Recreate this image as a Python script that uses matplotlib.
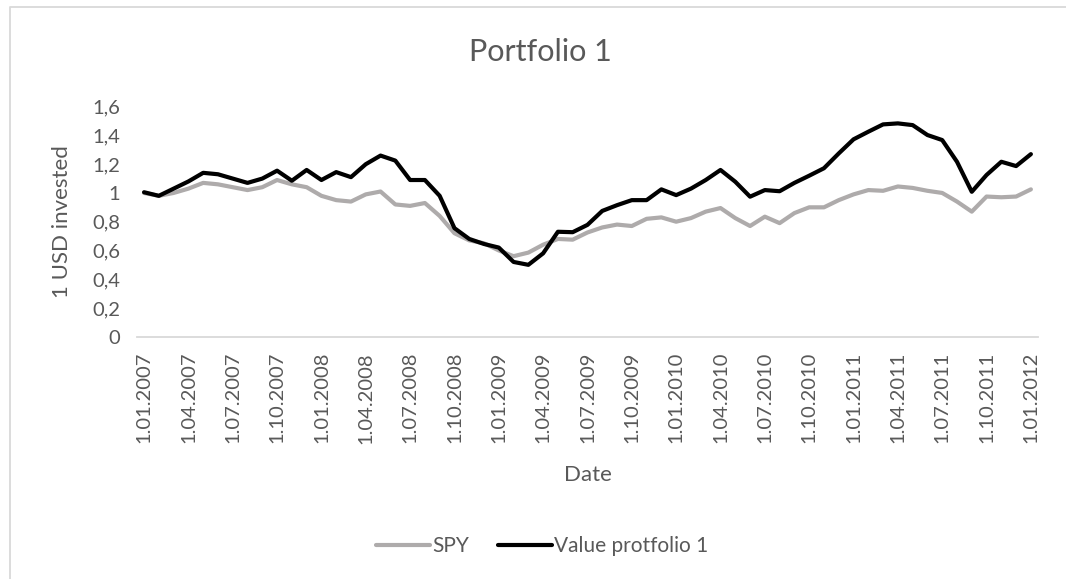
import matplotlib
matplotlib.use("Agg")
import matplotlib.pyplot as plt
from matplotlib.lines import Line2D
import pandas as pd

# datos mensuales (enero 2007 - enero 2012)
fechas = pd.date_range("2007-01-01", "2012-01-01", freq="MS")
spy = [1.00, 0.98, 1.00, 1.03, 1.07, 1.06, 1.04, 1.02, 1.04, 1.09,
       1.06, 1.04, 0.98, 0.95, 0.94, 0.99, 1.01, 0.92, 0.91, 0.93,
       0.84, 0.72, 0.67, 0.65, 0.60, 0.56, 0.585, 0.64, 0.68, 0.675,
       0.725, 0.76, 0.78, 0.77, 0.82, 0.83, 0.80, 0.825, 0.87, 0.895,
       0.825, 0.77, 0.835, 0.79, 0.86, 0.90, 0.90, 0.95, 0.99, 1.02,
       1.015, 1.045, 1.035, 1.015, 1.00, 0.94, 0.87, 0.975, 0.97, 0.975,
       1.025]
portafolio = [1.005, 0.98, 1.03, 1.08, 1.14, 1.13, 1.10, 1.07, 1.10, 1.155,
              1.085, 1.16, 1.09, 1.145, 1.11, 1.20, 1.26, 1.225, 1.09, 1.09,
              0.98, 0.755, 0.68, 0.645, 0.62, 0.52, 0.50, 0.58, 0.73, 0.727,
              0.778, 0.875, 0.915, 0.95, 0.95, 1.025, 0.985, 1.03, 1.09, 1.16,
              1.078, 0.974, 1.02, 1.012, 1.07, 1.12, 1.172, 1.275, 1.373, 1.426,
              1.477, 1.484, 1.472, 1.403, 1.368, 1.217, 1.008, 1.125, 1.217, 1.187,
              1.27]

etiquetas = [f"{d.day}.{d.month:02d}.{d.year}" for d in fechas]
x = list(range(len(fechas)))

gris_texto = "#595959"
plt.rcParams['font.family'] = ['Lato', 'DejaVu Sans']
plt.rcParams['text.color'] = gris_texto

fig = plt.figure(figsize=(10.66, 5.79), dpi=100)
ax = fig.add_axes([0.1282, 0.4185, 0.8458, 0.3972])

ax.plot(x, spy, color="#AEABAB", lw=3.0, solid_capstyle="round", solid_joinstyle="round", label="SPY")
ax.plot(x, portafolio, color="black", lw=3.0, solid_capstyle="round", solid_joinstyle="round", label="Value protfolio 1")

ax.set_xlim(-0.5, len(x) - 0.5)
ax.set_ylim(0, 1.6)
ax.set_yticks([0, 0.2, 0.4, 0.6, 0.8, 1.0, 1.2, 1.4, 1.6])
ax.set_yticklabels(["0", "0,2", "0,4", "0,6", "0,8", "1", "1,2", "1,4", "1,6"])
ax.set_xticks(x[::3])
ax.set_xticklabels(etiquetas[::3], rotation=90)
ax.tick_params(axis="both", length=0, labelsize=14.5, labelcolor=gris_texto)
ax.tick_params(axis="x", pad=11)
ax.tick_params(axis="y", pad=12)

for lado in ["top", "right", "left"]:
    ax.spines[lado].set_visible(False)
ax.spines["bottom"].set_color("#D9D9D9")
ax.spines["bottom"].set_linewidth(1.3)

# titulos
fig.text(540 / 1066, 1 - 52 / 579, "Portfolio 1", fontsize=22, ha="center", va="center")
fig.text(62 / 1066, 1 - 222 / 579, "1 USD invested", fontsize=16, rotation=90, ha="center", va="center")
fig.text(588 / 1066, 1 - 475 / 579, "Date", fontsize=16, ha="center", va="center")

fig.legend(loc="center", bbox_to_anchor=(542 / 1066, 1 - 546 / 579), ncol=2, frameon=False,
           fontsize=15, handlelength=2.6, handletextpad=0.1, columnspacing=1.4)

# borde del área del gráfico (solo arriba e izquierda visibles)
fig.add_artist(Line2D([10 / 1066, 10 / 1066, 1.0], [0.0, 1 - 7 / 579, 1 - 7 / 579],
                      transform=fig.transFigure, color="#D9D9D9", lw=1.3))

fig.savefig("out.png", dpi=100)
